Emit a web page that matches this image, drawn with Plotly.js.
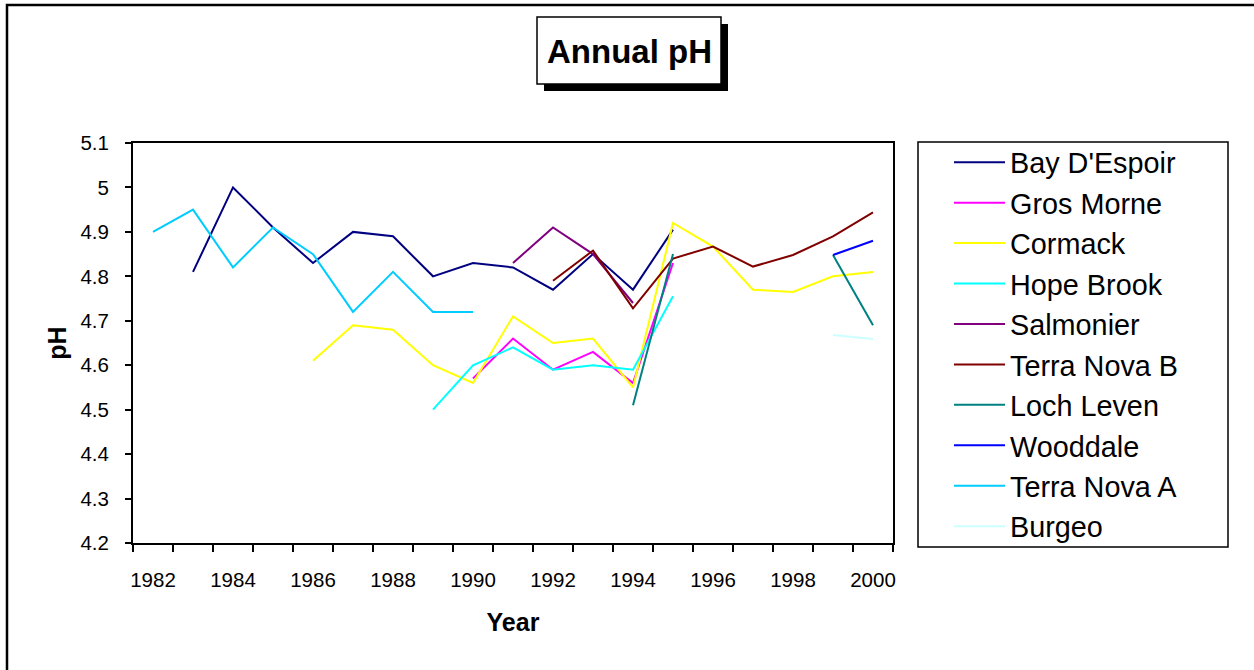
<!DOCTYPE html>
<html>
<head>
<meta charset="utf-8">
<script src="https://cdn.plot.ly/plotly-3.0.1.min.js"></script>
<style>html,body{margin:0;padding:0;background:#fff;}#chart{width:1254px;height:670px;}</style>
</head>
<body>
<div id="chart"></div>
<script>
// ---- data ----
const years = [1982,1983,1984,1985,1986,1987,1988,1989,1990,1991,1992,1993,1994,1995,1996,1997,1998,1999,2000];
const tickYears = [1982,1984,1986,1988,1990,1992,1994,1996,1998,2000];
const seriesNames = ["Bay D'Espoir","Gros Morne","Cormack","Hope Brook","Salmonier","Terra Nova B","Loch Leven","Wooddale","Terra Nova A","Burgeo"];
const bayDEspoir  = [null,4.81,5.00,4.91,4.83,4.90,4.89,4.80,4.83,4.82,4.77,4.85,4.77,4.905,null,null,null,null,null];
const grosMorne   = [null,null,null,null,null,null,null,null,4.57,4.66,4.59,4.63,4.56,4.83,null,null,null,null,null];
const cormack     = [null,null,null,null,4.61,4.69,4.68,4.60,4.56,4.71,4.65,4.66,4.55,4.92,4.867,4.77,4.765,4.80,4.81];
const hopeBrook   = [null,null,null,null,null,null,null,4.50,4.60,4.64,4.59,4.60,4.59,4.755,null,null,null,null,null];
const salmonier   = [null,null,null,null,null,null,null,null,null,4.83,4.91,4.85,4.74,null,null,null,null,null,null];
const terraNovaB  = [null,null,null,null,null,null,null,null,null,null,4.79,4.858,4.728,4.84,4.867,4.822,4.848,4.89,4.944];
const lochLeven   = [null,null,null,null,null,null,null,null,null,null,null,null,4.51,4.85,null,null,null,4.848,4.69];
const wooddale    = [null,null,null,null,null,null,null,null,null,null,null,null,null,null,null,null,null,4.848,4.88];
const terraNovaA  = [4.90,4.95,4.82,4.91,4.85,4.72,4.81,4.72,4.72,null,null,null,null,null,null,null,null,null,null];
const burgeo      = [null,null,null,null,null,null,null,null,null,null,null,null,null,null,null,null,null,4.668,4.659];
const seriesValues = [bayDEspoir,grosMorne,cormack,hopeBrook,salmonier,terraNovaB,lochLeven,wooddale,terraNovaA,burgeo];
const seriesColors = ["#000080","#FF00FF","#FFFF00","#00FFFF","#800080","#800000","#008080","#0000FF","#00CCFF","#CCFFFF"];

// ---- layout helpers (pixel -> paper) ----
const W = 1254, H = 670, ML = 133, MR = 361, MT = 143, MB = 127;
const PW = W - ML - MR, PH = H - MT - MB;
const px = x => (x - ML) / PW;
const py = y => (H - MB - y) / PH;

const traces = seriesNames.map((n, i) => ({
  type: 'scatter', mode: 'lines', name: n,
  x: years, y: seriesValues[i],
  line: {color: seriesColors[i], width: 2},
  connectgaps: false, hoverinfo: 'x+y+name'
}));

const boundaries = years.map(y => y - 0.5).concat([years[years.length-1] + 0.5]);

const FONT = '"Liberation Sans", Arial, sans-serif';

const layout = {
  width: W, height: H,
  margin: {l: ML, r: MR, t: MT, b: MB, pad: 0},
  paper_bgcolor: '#fff', plot_bgcolor: '#fff',
  font: {family: FONT, color: '#000', size: 20},
  showlegend: true,
  legend: {
    x: px(949), y: py(137), xanchor: 'left', yanchor: 'top',
    font: {family: FONT, size: 28.8, color: '#000'},
    bgcolor: 'rgba(0,0,0,0)', borderwidth: 0,
    itemwidth: 51, tracegroupgap: 0, traceorder: 'normal',
    maxheight: 640
  },
  xaxis: {
    type: 'linear', range: [1981.5, 2000.5],
    tickmode: 'array', tickvals: tickYears, ticktext: tickYears.map(String),
    ticks: '', showgrid: false, zeroline: false,
    showline: true, linecolor: '#000', linewidth: 2, mirror: true,
    ticklabelstandoff: 17,
    tickfont: {family: FONT, size: 20.5},
    minor: {tickmode: 'array', tickvals: boundaries, ticks: 'outside', ticklen: 7, tickwidth: 2, tickcolor: '#000', showgrid: false},
    title: {text: 'Year', font: {family: FONT, size: 25, weight: 'bold'}, standoff: 24}
  },
  yaxis: {
    range: [4.2, 5.1], tickmode: 'linear', tick0: 4.2, dtick: 0.1,
    ticks: 'outside', ticklen: 6, tickwidth: 2, tickcolor: '#000',
    showgrid: false, zeroline: false,
    showline: true, linecolor: '#000', linewidth: 2, mirror: true,
    ticklabelstandoff: 12,
    tickfont: {family: FONT, size: 20.5},
    title: {text: 'pH', font: {family: FONT, size: 25, weight: 'bold'}, standoff: 7}
  },
  shapes: [
    {type: 'rect', xref: 'paper', yref: 'paper', x0: px(7), x1: px(1265), y0: py(5), y1: py(685), line: {color: '#000', width: 2.5}, fillcolor: 'rgba(0,0,0,0)', layer: 'below'},
    {type: 'rect', xref: 'paper', yref: 'paper', x0: px(544), x1: px(728), y0: py(24), y1: py(91), line: {width: 0}, fillcolor: '#000', layer: 'below'},
    {type: 'rect', xref: 'paper', yref: 'paper', x0: px(537), x1: px(721), y0: py(17), y1: py(84), line: {color: '#000', width: 1.5}, fillcolor: '#fff', layer: 'below'},
    {type: 'rect', xref: 'paper', yref: 'paper', x0: px(918), x1: px(1228), y0: py(142), y1: py(547), line: {color: '#000', width: 1.5}, fillcolor: 'rgba(0,0,0,0)', layer: 'below'}
  ],
  annotations: [
    {xref: 'paper', yref: 'paper', x: px(629), y: py(52), xanchor: 'center', yanchor: 'middle', showarrow: false,
     text: 'Annual pH', font: {family: FONT, size: 33, weight: 'bold', color: '#000'}}
  ]
};

Plotly.newPlot('chart', traces, layout, {displayModeBar: false, staticPlot: true});
</script>
</body>
</html>
